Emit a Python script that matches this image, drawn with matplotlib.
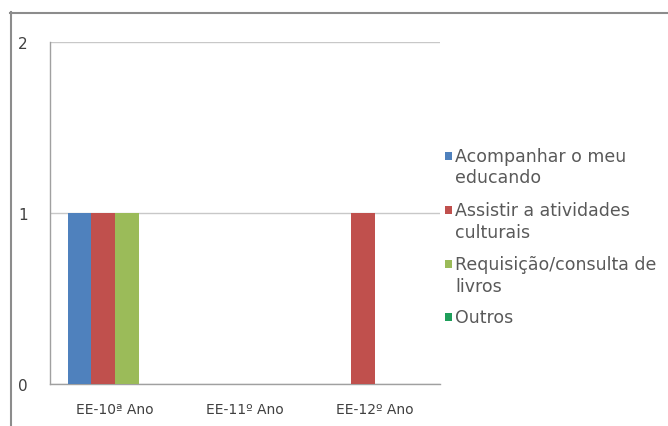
import matplotlib
matplotlib.use('Agg')
import matplotlib.pyplot as plt
from matplotlib.lines import Line2D
from matplotlib.patches import Rectangle
import numpy as np

# Chart data
categories = ["EE-10ª Ano", "EE-11º Ano", "EE-12º Ano"]
series_names = ["Acompanhar o meu\neducando", "Assistir a atividades\nculturais",
                "Requisição/consulta de\nlivros", "Outros"]
acompanhar = [1, 0, 0]
assistir = [1, 0, 1]
requisicao = [1, 0, 0]
outros = [0, 0, 0]
colors = ["#4F81BD", "#C0504D", "#9BBB59", "#1E9E5A"]

plt.rcParams['font.family'] = ['DejaVu Sans']

W, H = 668, 427
fig = plt.figure(figsize=(W / 100, H / 100), dpi=100)
ax = fig.add_axes([50 / W, 1 - 385 / H, 390 / W, 342 / H])

values = [acompanhar, assistir, requisicao, outros]
x = np.arange(len(categories))
w = 1 / 5.5
for j, (vals, c) in enumerate(zip(values, colors)):
    ax.bar(x + (j - 1.5) * w, vals, width=w, color=c, zorder=3)

ax.set_xlim(-0.5, 2.5)
ax.set_ylim(0, 2)
ax.set_yticks([0, 1, 2])
ax.set_xticks(x)
ax.set_xticklabels(categories)
ax.grid(axis='y', color='#c8c8c8', linewidth=1, zorder=0)
ax.tick_params(length=0, colors='#404040')
ax.tick_params(axis='x', pad=13, labelsize=10)
ax.tick_params(axis='y', pad=16, labelsize=11)
for s in ['top', 'right']:
    ax.spines[s].set_visible(False)
for s in ['left', 'bottom']:
    ax.spines[s].set_color('#a0a0a0')
    ax.spines[s].set_linewidth(1)

# legend drawn by hand so the key square sits on the first text line
entry_px = [157, 211, 265, 318]
for name, c, yp in zip(series_names, colors, entry_px):
    fig.add_artist(Rectangle((445 / W, 1 - (yp + 4) / H), 7 / W, 8 / H,
                             facecolor=c, edgecolor='none', transform=fig.transFigure))
    fig.text(455 / W, 1 - (yp - 9) / H, name, fontsize=12.5, color='#595959',
             va='top', ha='left', linespacing=1.25)

# outer chart frame (cut off at right and bottom)
fig.add_artist(Line2D([10.5 / W, 10.5 / W], [1 - 13 / H, 0], color='#8c8c8c', lw=1.5))
fig.add_artist(Line2D([10 / W, 1], [1 - 13.5 / H, 1 - 13.5 / H], color='#8c8c8c', lw=1.5))

fig.savefig("out.png", dpi=100)
